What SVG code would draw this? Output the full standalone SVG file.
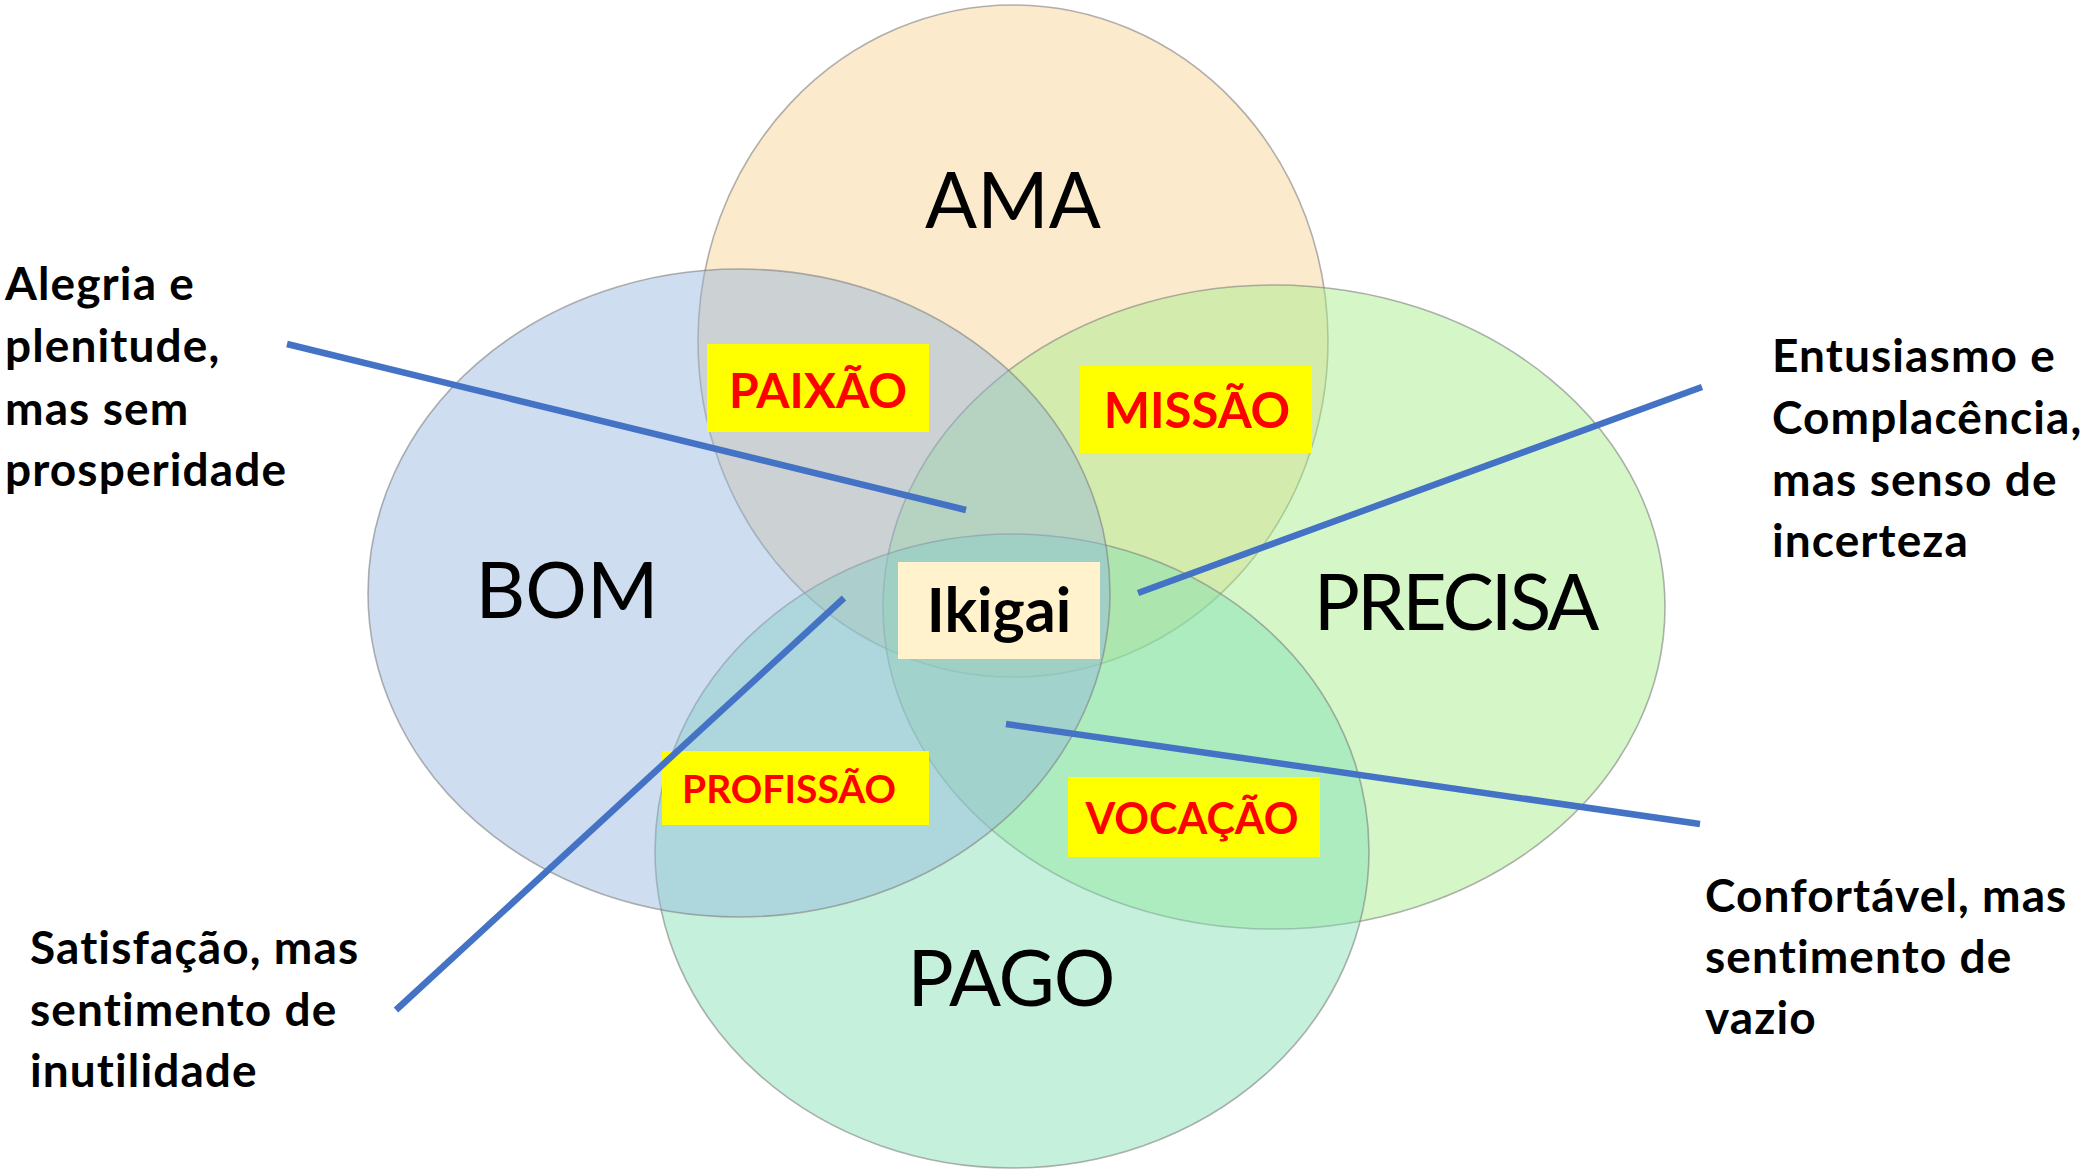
<svg xmlns="http://www.w3.org/2000/svg" width="2090" height="1176" viewBox="0 0 2090 1176">
<style>
.circ{stroke:#7f7f7f;stroke-opacity:0.6;stroke-width:1.6;fill-opacity:0.45}
.big{font-family:Lato,"Open Sans","Liberation Sans",sans-serif;font-size:77px;fill:#000;text-anchor:middle}
.tag{font-family:Lato,"Open Sans","Liberation Sans",sans-serif;font-weight:bold;fill:#FF0000;text-anchor:middle}
.tagbox{fill:#FFFF00}
.note{font-family:Lato,"Open Sans","Liberation Sans",sans-serif;font-weight:bold;font-size:46px;letter-spacing:1.1px;fill:#000}
.conn{stroke:#4472C4;stroke-width:6.5;fill:none;stroke-linecap:butt}
</style>
<rect width="2090" height="1176" fill="#FFFFFF"/>
<g id="ama">
<ellipse class="circ" cx="1013" cy="341" rx="315" ry="336" fill="#F8D08E"/>
</g>
<g id="precisa">
<ellipse class="circ" cx="1274" cy="607" rx="391" ry="322" fill="#A2ED85"/>
</g>
<g id="pago">
<ellipse class="circ" cx="1012" cy="851" rx="357" ry="317" fill="#7CDEB1"/>
</g>
<g id="bom">
<ellipse class="circ" cx="739" cy="593" rx="371" ry="324" fill="#92B6DE"/>
</g>
<g id="labels">
<text class="big" x="1013" y="228">AMA</text>
<text class="big" x="567" y="618">BOM</text>
<text class="big" x="1455" y="630" letter-spacing="-3">PRECISA</text>
<text class="big" x="1011" y="1006" letter-spacing="-1">PAGO</text>
</g>
<g id="paixao">
<rect class="tagbox" x="707" y="344" width="222" height="88"/>
<text class="tag" x="818" y="408" font-size="48">PAIXÃO</text>
</g>
<g id="missao">
<rect class="tagbox" x="1080" y="366" width="232" height="87"/>
<text class="tag" x="1197" y="428" font-size="49">MISSÃO</text>
</g>
<g id="profissao">
<rect class="tagbox" x="662" y="751" width="267" height="74"/>
<text class="tag" x="789" y="803" font-size="39">PROFISSÃO</text>
</g>
<g id="vocacao">
<rect class="tagbox" x="1068" y="777" width="252" height="80"/>
<text class="tag" x="1192" y="834" font-size="43">VOCAÇÃO</text>
</g>
<g id="ikigai">
<rect x="898" y="562" width="202" height="97" fill="#FFF2CC"/>
<text x="999" y="632" font-family="Lato,'Open Sans','Liberation Sans',sans-serif" font-weight="bold" font-size="61" text-anchor="middle" fill="#000">Ikigai</text>
</g>
<g id="connectors">
<line class="conn" x1="287" y1="344" x2="966" y2="510"/>
<line class="conn" x1="1702" y1="387" x2="1138" y2="593"/>
<line class="conn" x1="844" y1="598" x2="396" y2="1010"/>
<line class="conn" x1="1006" y1="724" x2="1700" y2="824"/>
</g>
<g id="note-alegria">
<text class="note" x="5" y="300">Alegria e</text>
<text class="note" x="5" y="362">plenitude,</text>
<text class="note" x="5" y="425">mas sem</text>
<text class="note" x="5" y="486">prosperidade</text>
</g>
<g id="note-entusiasmo">
<text class="note" x="1772" y="372">Entusiasmo e</text>
<text class="note" x="1772" y="434">Complacência,</text>
<text class="note" x="1772" y="496">mas senso de</text>
<text class="note" x="1772" y="557">incerteza</text>
</g>
<g id="note-satisfacao">
<text class="note" x="30" y="964">Satisfação, mas</text>
<text class="note" x="30" y="1026">sentimento de</text>
<text class="note" x="30" y="1087">inutilidade</text>
</g>
<g id="note-confortavel">
<text class="note" x="1705" y="912">Confortável, mas</text>
<text class="note" x="1705" y="973">sentimento de</text>
<text class="note" x="1705" y="1034">vazio</text>
</g>
</svg>
